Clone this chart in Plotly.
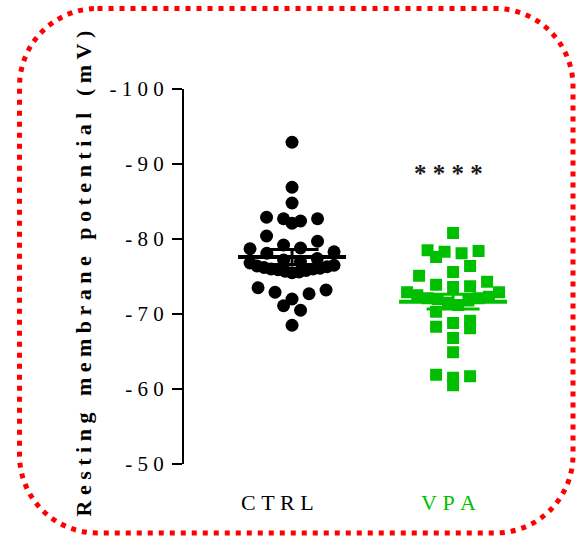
import plotly.graph_objects as go

# ---------------- data ----------------
categories = ["CTRL", "VPA"]

ctrl_values = [-92.9, -86.9, -84.8, -82.9, -82.7, -82.7, -82.4, -82.1,
               -80.4, -79.7, -79.2, -78.8, -78.7, -78.3, -78.1,
               -77.4, -77.2, -77.0, -76.8,
               -76.5, -76.4, -76.3, -76.2, -76.1, -76.0, -76.0, -75.9,
               -75.8, -75.7, -75.6, -75.5,
               -73.5, -73.2, -72.9, -72.7, -72.0, -71.1, -70.5, -68.5]

vpa_values = [-80.8, -78.5, -78.4, -78.3, -78.1, -77.6, -76.4, -75.6,
              -75.1, -74.3, -73.9, -73.7, -73.6, -72.9, -72.9, -72.5,
              -72.3, -72.1, -72.1, -72.0, -71.8, -71.5, -71.2, -70.3,
              -69.1, -68.8, -68.3, -68.1, -66.8, -64.9, -61.9, -61.7,
              -61.5, -60.5]

ctrl_mean, ctrl_sem = -77.6, 1.0
vpa_mean, vpa_sem = -71.65, 0.97

y_ticks = [-100, -90, -80, -70, -60, -50]
y_title = "Resting membrane potential (mV)"
significance = "****"

# ---------------- styling ----------------
W, H = 577, 536
ML, MR, MT, MB = 184, 36, 89, 72
PW, PH = W - ML - MR, H - MT - MB
X_RANGE = [-0.671, 1.546]
PX_PER_UNIT = PW / (X_RANGE[1] - X_RANGE[0])
GREEN = "#00BF00"
SERIF = "Liberation Serif, Times New Roman, serif"
NB = "\u00a0"


def spaced(s, word_gap=3):
    words = s.split(" ")
    return (NB * word_gap).join(NB.join(list(w)) for w in words)


def swarm(vals, bin_mv, step_px, half_px):
    """GraphPad-like scatter: bin values into rows, spread each row."""
    groups = {}
    for i, v in enumerate(vals):
        groups.setdefault(int(round(v / bin_mv)), []).append(i)
    off = [0.0] * len(vals)
    for idx in groups.values():
        idx = sorted(idx, key=lambda i: vals[i])
        n = len(idx)
        s = step_px if n == 1 else min(step_px, 2 * half_px / (n - 1))
        slots = [(k - (n - 1) / 2) * s for k in range(n)]
        # alternate outer-left, outer-right, inner-left, ...
        order = []
        lo, hi = 0, n - 1
        while lo <= hi:
            order.append(lo)
            if hi != lo:
                order.append(hi)
            lo += 1
            hi -= 1
        for k, i in enumerate(idx):
            off[i] = slots[order[k]] / PX_PER_UNIT
    return off


ctrl_off = swarm(ctrl_values, 1.73, 17, 42)
vpa_off = swarm(vpa_values, 2.4, 17, 46)

fig = go.Figure()

fig.add_trace(go.Scatter(
    x=[0 + o for o in ctrl_off], y=ctrl_values, mode="markers",
    marker=dict(symbol="circle", size=13, color="black", line=dict(width=0)),
    name=categories[0], cliponaxis=False))

fig.add_trace(go.Scatter(
    x=[1 + o for o in vpa_off], y=vpa_values, mode="markers",
    marker=dict(symbol="square", size=12, color=GREEN, line=dict(width=0)),
    name=categories[1], cliponaxis=False))

for xi, m, s, col in [(0, ctrl_mean, ctrl_sem, "black"), (1, vpa_mean, vpa_sem, GREEN)]:
    fig.add_trace(go.Scatter(
        x=[xi], y=[m], mode="markers",
        marker=dict(symbol="line-ew", size=108 / 1.4, color=col,
                    line=dict(width=4, color=col)),
        error_y=dict(type="data", array=[s], visible=True, width=26.5,
                     thickness=3, color=col),
        cliponaxis=False, showlegend=False))

annotations = [
    dict(text="<b>" + spaced(y_title, 3) + "</b>", xref="paper", yref="paper",
         x=(83 - ML) / PW, y=(464 - 273.5) / PH, textangle=-90,
         showarrow=False, xanchor="center", yanchor="middle",
         font=dict(family=SERIF, size=22, color="black")),
    dict(text=spaced(categories[0]), xref="x", yref="paper", x=0, xshift=-14.5,
         y=(464 - 502.5) / PH, showarrow=False, xanchor="center", yanchor="middle",
         font=dict(family=SERIF, size=22, color="black")),
    dict(text=spaced(categories[1]), xref="x", yref="paper", x=1, xshift=-5,
         y=(464 - 502.5) / PH, showarrow=False, xanchor="center", yanchor="middle",
         font=dict(family=SERIF, size=22, color=GREEN)),
    dict(text="<b>" + spaced(significance) + "</b>", xref="x", yref="y", x=1,
         xshift=-4.5, y=-88.7, showarrow=False, xanchor="center", yanchor="middle",
         font=dict(family=SERIF, size=25, color="#1a1a1a")),
]


# rounded dotted frame (pixel -> paper coordinates)
def P(px, py):
    return f"{(px - ML) / PW:.5f},{(464 - py) / PH:.5f}"


L, T, R, B, r = 19.5, 8.5, 573, 533, 78
k = 0.5523 * r
path = (f"M{P(L + r, T)} L{P(R - r, T)} "
        f"C{P(R - r + k, T)} {P(R, T + r - k)} {P(R, T + r)} "
        f"L{P(R, B - r)} "
        f"C{P(R, B - r + k)} {P(R - r + k, B)} {P(R - r, B)} "
        f"L{P(L + r, B)} "
        f"C{P(L + r - k, B)} {P(L, B - r + k)} {P(L, B - r)} "
        f"L{P(L, T + r)} "
        f"C{P(L, T + r - k)} {P(L + r - k, T)} {P(L + r, T)} Z")

fig.update_layout(
    width=W, height=H, margin=dict(l=ML, r=MR, t=MT, b=MB),
    paper_bgcolor="white", plot_bgcolor="white", showlegend=False,
    xaxis=dict(range=X_RANGE, visible=False, fixedrange=True),
    yaxis=dict(range=[-50, -100], tickvals=y_ticks,
               ticktext=[spaced(str(t)) for t in y_ticks],
               ticks="outside", ticklen=10, tickwidth=2, tickcolor="black",
               ticklabelstandoff=4,
               showline=True, linewidth=2, linecolor="black",
               showgrid=False, zeroline=False, fixedrange=True,
               tickfont=dict(family=SERIF, size=21, color="black")),
    annotations=annotations,
    shapes=[dict(type="path", xref="paper", yref="paper", path=path,
                 line=dict(color="#FF0000", width=5, dash="5px,6px"))],
)

fig.write_html("out.html", config={"displayModeBar": False},
               post_script="document.body.style.margin='0px';"
                           "document.body.style.overflow='hidden';")
